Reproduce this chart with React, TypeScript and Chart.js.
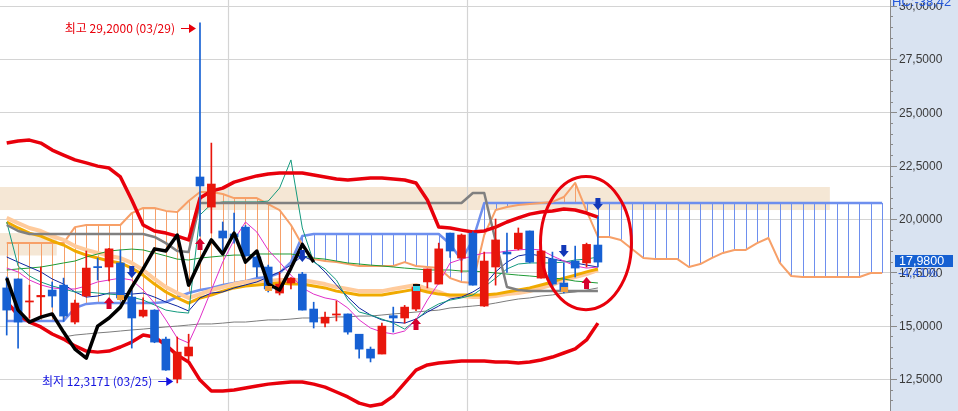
import React, { useEffect, useRef } from "react";
import { Chart, registerables } from "chart.js";

Chart.register(...registerables);

// ---------------- data ----------------
const opens = [16.77, 17.19, 16.11, 16.35, 16.67, 16.9, 15.17, 16.39, 17.77, 17.75, 17.94, 16.34, 15.45, 15.73, 14.37, 12.5, 13.58, 21.97, 20.56, 19.44, 19.3, 19.62, 18.22, 17.75, 16.53, 17.0, 17.42, 15.78, 15.12, 15.5, 15.55, 14.6, 13.9, 13.67, 15.47, 15.36, 15.78, 17.05, 16.95, 19.34, 18.17, 19.34, 15.92, 17.75, 18.45, 18.6, 19.44, 17.23, 18.12, 17.0, 18.03, 17.94, 18.78];
const highs = [17.28, 17.2, 16.9, 17.75, 17.05, 17.23, 16.2, 18.5, 18.17, 18.62, 18.55, 16.67, 16.3, 15.75, 14.47, 14.47, 14.6, 29.2, 23.56, 19.86, 20.28, 19.7, 18.27, 17.84, 17.5, 17.25, 17.5, 16.1, 15.64, 16.16, 15.55, 14.6, 14.0, 15.12, 15.87, 15.95, 16.9, 17.66, 18.87, 19.34, 19.3, 19.4, 18.45, 20.0, 19.34, 19.58, 19.44, 18.8, 18.45, 17.94, 18.73, 18.87, 20.1];
const lows = [14.56, 13.95, 15.36, 15.4, 15.87, 15.2, 15.08, 16.35, 17.14, 17.1, 16.2, 13.95, 15.4, 14.2, 12.9, 12.3171, 13.4, 19.2, 19.34, 18.4, 18.87, 18.25, 17.28, 16.58, 16.44, 16.72, 15.73, 14.89, 14.94, 15.22, 14.6, 13.48, 13.3, 13.67, 14.7, 15.12, 15.7, 16.77, 16.95, 18.2, 17.5, 16.9, 15.9, 16.9, 17.5, 18.55, 17.94, 17.23, 16.77, 16.53, 17.28, 17.75, 17.75];
const closes = [15.73, 15.17, 16.16, 16.42, 16.39, 15.45, 16.06, 17.7, 17.72, 18.6, 16.3, 15.36, 15.73, 14.23, 12.92, 13.76, 14.0, 21.55, 21.64, 19.11, 19.16, 18.27, 17.75, 16.72, 16.95, 17.23, 15.73, 15.17, 15.4, 15.55, 14.7, 13.9, 13.48, 14.98, 15.36, 15.87, 16.81, 17.66, 18.6, 18.5, 19.25, 16.9, 18.03, 19.02, 18.36, 19.34, 17.98, 18.5, 16.95, 16.67, 17.7, 18.81, 17.98];

const bbUpper = [23.56, 23.66, 23.7, 23.56, 23.23, 23.0, 22.77, 22.63, 22.48, 22.39, 21.97, 20.89, 19.72, 19.44, 19.34, 19.2, 19.02, 20.98, 21.31, 21.45, 21.73, 21.88, 22.02, 22.11, 22.16, 22.16, 22.16, 22.06, 21.97, 21.88, 21.83, 21.88, 21.92, 21.92, 21.88, 21.83, 21.69, 20.89, 19.62, 19.58, 19.48, 19.39, 19.44, 19.62, 19.86, 20.05, 20.23, 20.33, 20.38, 20.47, 20.42, 20.28, 20.09];
const bbLower = [16.11, 15.5, 15.17, 14.94, 14.61, 14.37, 14.05, 13.81, 13.76, 13.81, 14.0, 14.23, 14.56, 14.47, 14.09, 13.62, 13.3, 12.45, 11.94, 11.94, 11.98, 12.08, 12.17, 12.26, 12.31, 12.36, 12.36, 12.26, 12.12, 11.89, 11.66, 11.37, 11.23, 11.33, 11.7, 12.31, 12.92, 13.16, 13.25, 13.3, 13.34, 13.34, 13.34, 13.3, 13.3, 13.25, 13.3, 13.39, 13.53, 13.72, 13.91, 14.33, 15.12];

const spanA = [18.87, 18.87, 18.87, 18.87, 18.87, 18.87, 19.62, 19.72, 19.72, 19.72, 19.72, 20.28, 20.52, 20.52, 20.38, 20.33, 20.84, 21.27, 21.27, 21.17, 20.98, 20.98, 20.98, 20.7, 20.42, 19.72, 18.78, 18.12, 18.03, 17.98, 17.89, 17.8, 17.8, 17.8, 17.8, 17.98, 17.8, 17.75, 17.7, 17.23, 17.05, 17.0, 19.25, 20.42, 20.56, 20.66, 20.7, 20.75, 20.8, 21.03, 21.69, 20.38, 19.16, 19.16, 19.02, 18.59, 18.17, 18.12, 18.12, 18.12, 17.75, 17.89, 18.17, 18.41, 18.55, 18.55, 18.87, 19.11, 17.94, 17.33, 17.28, 17.28, 17.28, 17.28, 17.28, 17.28, 17.47, 17.47];
const spanB = [15.22, 15.22, 15.22, 15.22, 15.22, 15.22, 15.83, 16.02, 16.06, 16.06, 16.06, 16.06, 16.06, 16.06, 16.11, 16.34, 16.53, 16.67, 16.77, 16.91, 17.0, 17.09, 17.23, 17.28, 17.47, 17.98, 19.2, 19.3, 19.3, 19.3, 19.3, 19.3, 19.3, 19.3, 19.3, 19.3, 19.3, 19.3, 19.3, 18.83, 18.08, 19.02, 20.75, 20.75, 20.75, 20.75, 20.75, 20.75, 20.75, 20.75, 20.75, 20.75, 20.75, 20.75, 20.75, 20.75, 20.75, 20.75, 20.75, 20.75, 20.75, 20.75, 20.75, 20.75, 20.75, 20.75, 20.75, 20.75, 20.75, 20.75, 20.75, 20.75, 20.75, 20.75, 20.75, 20.75, 20.75, 20.75];
const baseLine = [19.72, 19.44, 19.3, 19.3, 19.3, 19.3, 19.3, 19.3, 19.3, 19.3, 19.3, 19.3, 19.3, 19.16, 18.87, 18.5, 18.45, 20.75, 20.75, 20.75, 20.75, 20.75, 20.75, 20.75, 20.75, 20.75, 20.75, 20.75, 20.75, 20.75, 20.75, 20.75, 20.75, 20.75, 20.75, 20.75, 20.75, 20.75, 20.75, 20.75, 20.75, 21.22, 21.22, 18.97, 16.81, 16.67, 16.62, 16.62, 16.62, 16.62, 16.62, 16.62, 16.62];
const chikouShift = 25;

const maGold = [19.86, 19.58, 19.34, 19.2, 18.97, 18.78, 18.5, 18.31, 18.17, 18.03, 17.94, 17.7, 17.37, 16.95, 16.58, 16.3, 16.06, 16.3, 16.44, 16.62, 16.77, 16.86, 16.91, 16.95, 17.0, 16.95, 16.95, 16.86, 16.77, 16.62, 16.53, 16.44, 16.44, 16.44, 16.53, 16.62, 16.72, 16.58, 16.48, 16.44, 16.44, 16.44, 16.44, 16.48, 16.58, 16.67, 16.77, 16.91, 17.05, 17.23, 17.37, 17.52, 17.66];
const maPeach = [20.05, 19.81, 19.58, 19.44, 19.2, 19.02, 18.73, 18.55, 18.41, 18.27, 18.17, 17.94, 17.61, 17.19, 16.81, 16.53, 16.3, 16.48, 16.67, 16.81, 16.95, 17.05, 17.09, 17.09, 17.14, 17.14, 17.14, 17.05, 16.95, 16.81, 16.72, 16.62, 16.62, 16.62, 16.72, 16.81, 16.91, 16.72, 16.58, 16.39, 16.39, 16.34, 16.34, 16.39, 16.48, 16.53, 16.62, 16.77, 16.91, 17.14, 17.28, 17.42, 17.61];
const maGreen = [17.61, 17.66, 17.7, 17.75, 17.84, 17.94, 18.03, 18.22, 18.36, 18.5, 18.55, 18.59, 18.55, 18.41, 18.27, 18.12, 18.08, 18.17, 18.22, 18.27, 18.31, 18.31, 18.36, 18.36, 18.36, 18.36, 18.27, 18.17, 18.12, 18.03, 17.94, 17.89, 17.84, 17.8, 17.75, 17.7, 17.66, 17.61, 17.61, 17.61, 17.56, 17.56, 17.52, 17.47, 17.42, 17.37, 17.33, 17.28, 17.23, 17.19, 17.09, 17.05, 17.0];
const maTeal = [19.86, 17.8, 17.33, 17.05, 16.86, 16.72, 16.58, 16.58, 16.53, 16.48, 16.44, 16.34, 16.2, 15.97, 15.73, 15.64, 15.59, 20.19, 20.7, 20.8, 20.8, 20.8, 20.8, 20.84, 21.45, 22.77, 19.58, 17.98, 17.66, 17.14, 16.2, 15.64, 15.5, 15.31, 15.12, 14.84, 15.27, 15.73, 16.02, 16.2, 16.3, 16.44, 16.81, 17.23, 17.66, 17.89, 17.94, 17.94, 17.94, 17.98, 18.08, 18.12, 18.22];
const maNavy = [18.22, 17.98, 17.75, 17.52, 17.19, 16.95, 16.58, 16.34, 16.39, 16.53, 16.53, 16.48, 16.53, 16.34, 16.11, 15.92, 15.69, 16.3, 16.53, 16.58, 16.77, 16.91, 17.05, 17.28, 17.52, 17.84, 18.27, 18.03, 17.52, 16.91, 16.34, 15.83, 15.5, 15.27, 15.17, 15.12, 15.31, 15.64, 15.92, 16.25, 16.34, 16.58, 16.91, 17.52, 17.98, 18.27, 18.36, 18.27, 18.12, 18.03, 17.94, 17.84, 17.75];
const maMagenta = [17.7, 17.52, 17.14, 16.91, 16.77, 16.72, 16.72, 16.86, 17.05, 17.14, 17.23, 17.14, 16.67, 16.06, 15.27, 14.42, 14.19, 15.36, 16.67, 17.98, 19.02, 19.86, 19.39, 18.55, 17.98, 17.37, 16.77, 16.48, 16.3, 16.2, 15.83, 15.27, 14.89, 14.7, 14.61, 14.75, 15.27, 16.2, 17.0, 17.94, 18.12, 18.27, 18.41, 18.41, 18.5, 18.55, 18.59, 18.55, 18.27, 18.03, 17.8, 17.7, 17.75];
const maGray = [null, null, null, null, null, 14.47, 14.56, 14.61, 14.66, 14.7, 14.75, 14.8, 14.84, 14.89, 14.94, 14.98, 15.03, 15.08, 15.08, 15.12, 15.17, 15.17, 15.22, 15.27, 15.27, 15.31, 15.36, 15.36, 15.36, 15.41, 15.41, 15.45, 15.45, 15.5, 15.55, 15.59, 15.64, 15.69, 15.73, 15.83, 15.87, 15.92, 15.97, 16.06, 16.16, 16.25, 16.3, 16.39, 16.44, 16.53, 16.58, 16.67, 16.77];

const yMajorTicks = [12.5, 15, 17.5, 20, 22.5, 25, 27.5, 30];
const monthBreaks = [19.5, 40.5];
const zoneLow = [20.42, 18.29];
const zoneHigh = [21.5, 19.34];
const zoneEnd = [72.4, 4.4];
const buyIdx = [9, 17, 36, 51];
const buyTip = [16.34, 19.11, 15.36, 17.28];
const sellIdx = [11, 26, 49, 52];
const sellTip = [17.23, 17.98, 18.22, 20.42];
const orangeDotIdx = [10, 23, 49];
const cyanDotIdx = [36];
const highDate = "03/29";
const lowDate = "03/25";
const hcLabel = "HC:-38,42";
const focusIdx = 50.95;
const focusVal = 18.87;
const focusHalfIdx = 4.0;
const focusHalfVal = 3.12;

// ---------------- helpers ----------------
const X_MIN = -0.59;
const X_MAX = 77.69;
const Y_MIN = 11.0;
const Y_MAX = 30.267;
const RED = "#E8160C";
const BLUE = "#1660D3";
const PANEL = "#D9E3F1";

const fmt = (v: number) => v.toFixed(4).replace(".", ",");

const lineDs = (label: string, arr: (number | null)[], color: string, width: number, order: number) => ({
  type: "line" as const,
  label,
  data: arr.map((v, i) => ({ x: i, y: v })),
  borderColor: color,
  borderWidth: width,
  pointRadius: 0,
  tension: 0,
  fill: false,
  spanGaps: false,
  order,
  borderJoinStyle: "round" as const,
});

const bgPlugin = {
  id: "bgLayer",
  beforeDatasetsDraw(chart: any) {
    const { ctx, chartArea: a } = chart;
    const x = chart.scales.x;
    const y = chart.scales.y;
    ctx.save();
    ctx.beginPath();
    ctx.rect(a.left, a.top, a.right - a.left, a.bottom - a.top);
    ctx.clip();
    // zones
    ctx.fillStyle = "#F5E7D5";
    for (let k = 0; k < zoneLow.length; k++) {
      const xe = x.getPixelForValue(zoneEnd[k]);
      const yt = y.getPixelForValue(zoneHigh[k]);
      const yb = y.getPixelForValue(zoneLow[k]);
      ctx.fillRect(a.left, yt, xe - a.left, yb - yt);
    }
    // grid
    ctx.strokeStyle = "#D4D4D4";
    ctx.lineWidth = 1.2;
    for (const v of yMajorTicks) {
      const py = Math.round(y.getPixelForValue(v)) + 0.5;
      ctx.beginPath();
      ctx.moveTo(a.left, py);
      ctx.lineTo(a.right, py);
      ctx.stroke();
    }
    for (const m of monthBreaks) {
      const px = Math.round(x.getPixelForValue(m)) + 0.5;
      ctx.beginPath();
      ctx.moveTo(px, a.top);
      ctx.lineTo(px, a.bottom);
      ctx.stroke();
    }
    // cloud hatch
    ctx.lineWidth = 1;
    for (let i = 0; i < spanA.length; i++) {
      const va = spanA[i];
      const vb = spanB[i];
      if (va == null || vb == null) continue;
      const px = Math.round(x.getPixelForValue(i)) + 0.5;
      ctx.strokeStyle = va >= vb ? "#F6A06A" : "#6E8FEE";
      ctx.beginPath();
      ctx.moveTo(px, y.getPixelForValue(va));
      ctx.lineTo(px, y.getPixelForValue(vb));
      ctx.stroke();
    }
    ctx.restore();
  },
};

function arrowUp(ctx: CanvasRenderingContext2D, cx: number, tip: number, color: string) {
  ctx.fillStyle = color;
  ctx.beginPath();
  ctx.moveTo(cx, tip);
  ctx.lineTo(cx + 5, tip + 6);
  ctx.lineTo(cx + 2.5, tip + 6);
  ctx.lineTo(cx + 2.5, tip + 12);
  ctx.lineTo(cx - 2.5, tip + 12);
  ctx.lineTo(cx - 2.5, tip + 6);
  ctx.lineTo(cx - 5, tip + 6);
  ctx.closePath();
  ctx.fill();
}
function arrowDown(ctx: CanvasRenderingContext2D, cx: number, tip: number, color: string) {
  ctx.fillStyle = color;
  ctx.beginPath();
  ctx.moveTo(cx, tip);
  ctx.lineTo(cx + 5, tip - 6);
  ctx.lineTo(cx + 2.5, tip - 6);
  ctx.lineTo(cx + 2.5, tip - 12);
  ctx.lineTo(cx - 2.5, tip - 12);
  ctx.lineTo(cx - 2.5, tip - 6);
  ctx.lineTo(cx - 5, tip - 6);
  ctx.closePath();
  ctx.fill();
}
function hArrow(ctx: CanvasRenderingContext2D, x0: number, x1: number, yy: number, color: string) {
  ctx.strokeStyle = color;
  ctx.fillStyle = color;
  ctx.lineWidth = 1;
  ctx.beginPath();
  ctx.moveTo(x0, yy + 0.5);
  ctx.lineTo(x1 - 5, yy + 0.5);
  ctx.stroke();
  ctx.beginPath();
  ctx.moveTo(x1, yy + 0.5);
  ctx.lineTo(x1 - 7, yy - 4);
  ctx.lineTo(x1 - 7, yy + 5);
  ctx.closePath();
  ctx.fill();
}

const fgPlugin = {
  id: "fgLayer",
  afterDatasetsDraw(chart: any) {
    const { ctx, chartArea: a } = chart;
    const x = chart.scales.x;
    const y = chart.scales.y;
    ctx.save();
    ctx.beginPath();
    ctx.rect(a.left, a.top, a.right - a.left, a.bottom - a.top);
    ctx.clip();
    // signal squares
    for (const i of orangeDotIdx) {
      const px = x.getPixelForValue(i);
      const py = y.getPixelForValue(closes[i]);
      ctx.fillStyle = "#F0A040";
      ctx.fillRect(Math.round(px) - 3, Math.round(py) - 3, 7, 5);
    }
    for (const i of cyanDotIdx) {
      const px = x.getPixelForValue(i);
      const py = y.getPixelForValue(closes[i]);
      ctx.fillStyle = "#111";
      ctx.fillRect(Math.round(px) - 3, Math.round(py) - 3, 7, 2);
      ctx.fillStyle = "#38D6E8";
      ctx.fillRect(Math.round(px) - 3, Math.round(py) - 1, 7, 5);
    }
    // arrows
    buyIdx.forEach((i, k) => arrowUp(ctx, x.getPixelForValue(i), y.getPixelForValue(buyTip[k]), "#D6002C"));
    sellIdx.forEach((i, k) => arrowDown(ctx, x.getPixelForValue(i), y.getPixelForValue(sellTip[k]), "#1238B8"));
    // focus ellipse
    const cx = x.getPixelForValue(focusIdx);
    const cy = y.getPixelForValue(focusVal);
    const rx = x.getPixelForValue(focusIdx + focusHalfIdx) - cx;
    const ry = y.getPixelForValue(focusVal - focusHalfVal) - cy;
    ctx.strokeStyle = "#E8000B";
    ctx.lineWidth = 3;
    ctx.beginPath();
    ctx.ellipse(cx, cy, rx, ry, 0, 0, Math.PI * 2);
    ctx.stroke();
    // high / low notes
    let hi = 0;
    let lo = 0;
    highs.forEach((v, i) => { if (v > highs[hi]) hi = i; });
    lows.forEach((v, i) => { if (v < lows[lo]) lo = i; });
    ctx.font = '12px "Noto Sans CJK KR", sans-serif';
    ctx.textBaseline = "middle";
    ctx.textAlign = "right";
    const hx = x.getPixelForValue(hi);
    const hy = Math.round(y.getPixelForValue(highs[hi])) + 5;
    ctx.fillStyle = "#E8000B";
    ctx.fillText(`최고 ${fmt(highs[hi])} (${highDate})`, hx - 25, hy);
    hArrow(ctx, hx - 19, hx - 4, hy, "#E8000B");
    const lx = x.getPixelForValue(lo);
    const ly = Math.round(y.getPixelForValue(lows[lo])) - 2;
    ctx.fillStyle = "#1414E0";
    ctx.fillText(`최저 ${fmt(lows[lo])} (${lowDate})`, lx - 25, ly);
    hArrow(ctx, lx - 19, lx - 4, ly, "#1414E0");
    ctx.restore();
  },
  afterDraw(chart: any) {
    const { ctx, chartArea: a, width, height } = chart;
    const y = chart.scales.y;
    ctx.save();
    ctx.fillStyle = PANEL;
    ctx.fillRect(a.right, 0, width - a.right, height);
    ctx.strokeStyle = "#8A8A8A";
    ctx.lineWidth = 1;
    ctx.beginPath();
    ctx.moveTo(a.right + 0.5, 0);
    ctx.lineTo(a.right + 0.5, height);
    ctx.stroke();
    // ticks
    for (let k = Math.ceil(Y_MIN * 2); k <= Math.floor(Y_MAX * 2); k++) {
      const v = k / 2;
      const py = Math.round(y.getPixelForValue(v)) + 0.5;
      const major = k % 5 === 0;
      ctx.beginPath();
      ctx.moveTo(a.right, py);
      ctx.lineTo(a.right + (major ? 7 : 3), py);
      ctx.stroke();
    }
    ctx.font = '12px "Liberation Sans", Arial, sans-serif';
    ctx.fillStyle = "#3A3A3A";
    ctx.textAlign = "left";
    ctx.textBaseline = "middle";
    for (const v of yMajorTicks) {
      ctx.fillText(fmt(v), a.right + 9, y.getPixelForValue(v) + 1);
    }
    // header
    ctx.fillStyle = PANEL;
    ctx.fillRect(a.right + 1, 0, width - a.right, 3);
    ctx.font = '13px "Liberation Sans", Arial, sans-serif';
    ctx.fillStyle = "#2356D8";
    ctx.textBaseline = "alphabetic";
    ctx.fillText(hcLabel, a.right + 2, 6);
    // price box
    const last = closes[closes.length - 1];
    const prev = closes[closes.length - 2];
    const py = Math.round(y.getPixelForValue(last));
    ctx.fillStyle = "#1560D2";
    ctx.fillRect(a.right + 5, py - 7, 58, 12);
    ctx.fillStyle = "#FFFFFF";
    ctx.font = '12.5px "Liberation Sans", Arial, sans-serif';
    ctx.textBaseline = "middle";
    ctx.fillText(fmt(last), a.right + 9, py);
    const pct = ((last - prev) / prev) * 100;
    ctx.fillStyle = "#2356D8";
    ctx.fillText(`${pct.toFixed(2).replace(".", ",")}%`, a.right + 8, py + 12);
    ctx.restore();
  },
};

export default function App() {
  const ref = useRef<HTMLCanvasElement>(null);
  useEffect(() => {
    if (!ref.current) return;
    const bodyColors = opens.map((o, i) => (closes[i] >= o ? RED : BLUE));
    const chikou = closes.slice(chikouShift);
    const chart = new Chart(ref.current, {
      type: "line",
      data: {
        datasets: [
          lineDs("MA long", maGray, "#7C7C7C", 1, 30),
          lineDs("Span B", spanB, "#6E8FEE", 2.5, 29),
          lineDs("Span A", spanA, "#F7A068", 2, 28),
          lineDs("MA peach", maPeach, "#FFCB9C", 4, 27),
          lineDs("MA gold", maGold, "#F0AA00", 3, 26),
          lineDs("MA green", maGreen, "#1E9A34", 1, 25),
          lineDs("MA navy", maNavy, "#0B24A0", 1, 24),
          lineDs("MA teal", maTeal, "#139A7E", 1, 23),
          lineDs("MA magenta", maMagenta, "#E02EC8", 1, 22),
          lineDs("Base", baseLine, "#808080", 2.5, 21),
          lineDs("BB upper", bbUpper, "#E8000B", 3.5, 20),
          lineDs("BB lower", bbLower, "#E8000B", 3.5, 20),
          {
            type: "bar",
            label: "wick",
            data: highs.map((h, i) => ({ x: i, y: [lows[i], h] })),
            backgroundColor: bodyColors,
            barThickness: 1,
            grouped: false,
            borderWidth: 0,
            order: 12,
          } as any,
          {
            type: "bar",
            label: "body",
            data: opens.map((o, i) => ({ x: i, y: [Math.min(o, closes[i]), Math.max(o, closes[i])] })),
            backgroundColor: bodyColors,
            barThickness: 8,
            grouped: false,
            borderWidth: 0,
            order: 11,
          } as any,
          lineDs("Lagging", chikou, "#000000", 3.5, 5),
        ],
      },
      options: {
        animation: false,
        responsive: false,
        devicePixelRatio: 1,
        events: [],
        layout: { padding: { left: 0, top: 0, bottom: 0, right: 68 } },
        plugins: { legend: { display: false }, tooltip: { enabled: false } },
        scales: {
          x: { type: "linear", min: X_MIN, max: X_MAX, offset: false, display: false, grid: { offset: false } },
          y: { type: "linear", min: Y_MIN, max: Y_MAX, display: false },
        },
      },
      plugins: [bgPlugin, fgPlugin],
    } as any);
    return () => chart.destroy();
  }, []);
  return (
    <div style={{ position: "fixed", left: 0, top: 0, width: 958, height: 411, background: "#fff" }}>
      <canvas ref={ref} width={958} height={411} style={{ display: "block", width: 958, height: 411 }} />
    </div>
  );
}
